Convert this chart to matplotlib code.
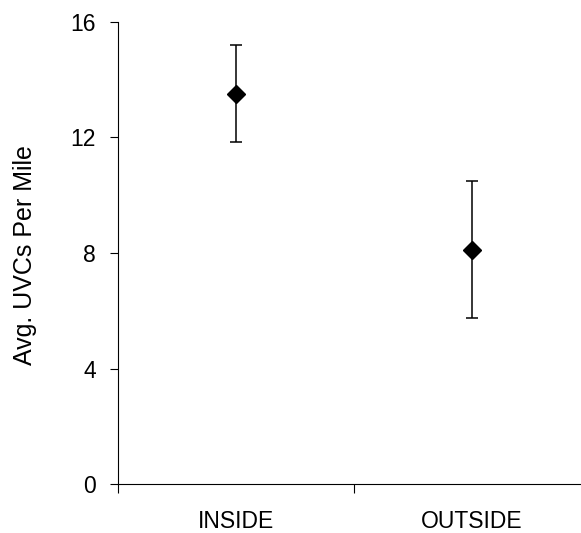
import matplotlib.pyplot as plt
import numpy as np

plt.rcParams['font.family'] = ['Liberation Sans', 'DejaVu Sans']

# data
categories = ['INSIDE', 'OUTSIDE']
means = [13.5, 8.1]
upper = [15.2, 10.5]
lower = [11.85, 5.75]

xpos = np.arange(len(categories)) + 0.5
yerr = [np.array(means) - np.array(lower), np.array(upper) - np.array(means)]

fig = plt.figure(figsize=(5.81, 5.33), dpi=100)
ax = fig.add_axes([118/581, 1-484/533, 472/581, 462/533])

ax.errorbar(xpos, means, yerr=yerr, fmt='D', color='black', markersize=9,
            ecolor='black', elinewidth=1.1, capsize=4.3, capthick=1.1)

ax.set_xlim(0, 2)
ax.set_ylim(0, 16)
ax.set_yticks([0, 4, 8, 12, 16])

ax.set_xticks([0, 1, 2])
ax.set_xticklabels(['', '', ''])
ax.set_xticks(xpos, minor=True)
ax.set_xticklabels(categories, minor=True)
ax.tick_params(axis='x', which='minor', length=0, pad=19, labelsize=16.5)
ax.tick_params(axis='x', which='major', length=6.5, width=0.8, direction='out')
ax.tick_params(axis='y', length=6, width=0.8, direction='out', pad=10, labelsize=16.5)

ax.spines['top'].set_visible(False)
ax.spines['right'].set_visible(False)

fig.text(25/581, 1-255/533, 'Avg. UVCs Per Mile', rotation=90,
         ha='center', va='center', fontsize=18)

plt.savefig('out.png', dpi=100)
